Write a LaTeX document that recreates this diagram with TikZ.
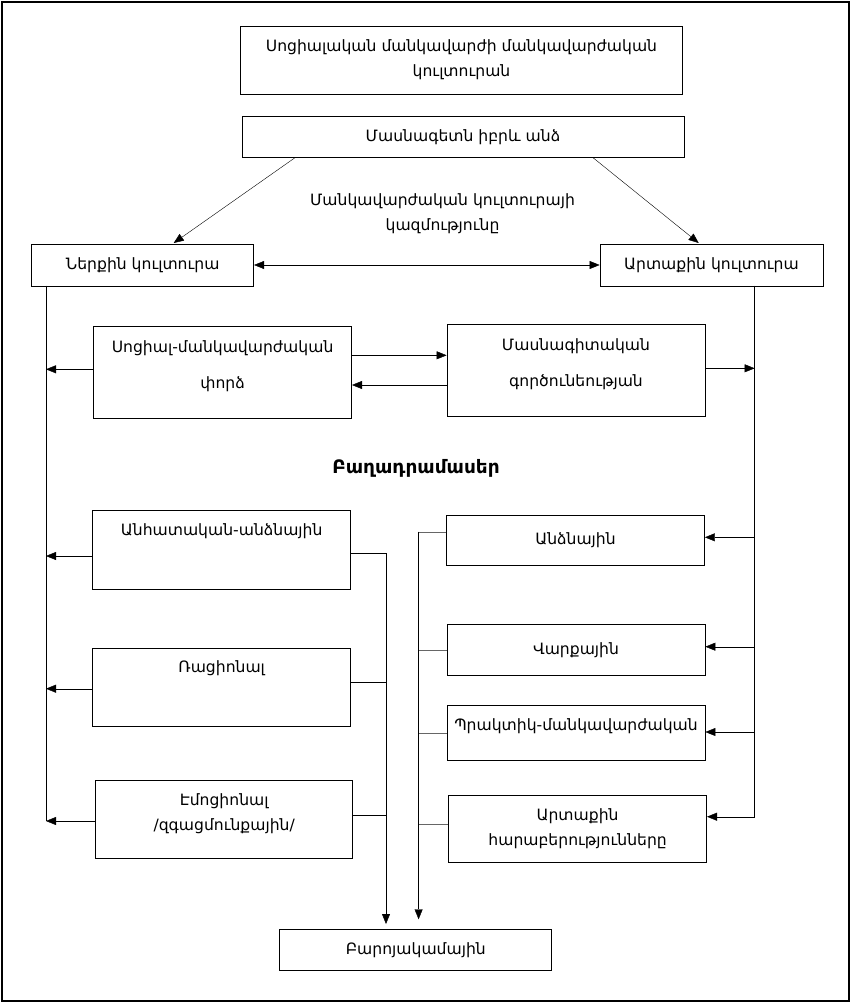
\documentclass[tikz,border=0pt]{standalone}
\usepackage{fontspec}
\setmainfont{DejaVu Sans}
\usetikzlibrary{arrows.meta,positioning}

\tikzset{
  box/.style={draw, thick, rectangle, align=center, inner sep=0pt},
  conn/.style={thin},
  arr/.style={thin, -{Triangle[length=10pt,width=8pt]}},
  darr/.style={thin, {Triangle[length=10pt,width=8pt]}-{Triangle[length=10pt,width=8pt]}},
  stub/.style={thin, black!60},
  toptext/.style={label={[anchor=north, yshift=-10pt]north:#1}},
  midtext/.style={label={[align=center, font=\fontsize{15.6}{36}\selectfont, yshift=6pt]center:#1}}
}

\begin{document}
\begin{tikzpicture}[x=1pt, y=-1pt, font=\fontsize{15.6}{25}\selectfont]
    \useasboundingbox (0,0) rectangle (851,1003);
    % Outer frame
    \draw[line width=1.5pt] (2,2) rectangle (849,1001);

    % Top boxes
    \node[box, minimum width=442, minimum height=68] (culture) at (461.5,60)
        {Սոցիալական մանկավարժի մանկավարժական\\կուլտուրան};
    \node[box, minimum width=442, minimum height=41] (person) at (463,137)
        {Մասնագետն իբրև անձ};
    \node[align=center] (struct) at (442.5,214)
        {Մանկավարժական կուլտուրայի\\կազմությունը};

    % Inner and outer culture
    \node[box, minimum width=222, minimum height=42] (inner) at (142.7,265) {Ներքին կուլտուրա};
    \node[box, minimum width=223, minimum height=42] (outer) at (711.5,265) {Արտաքին կուլտուրա};

    % Middle boxes
    \node[box, minimum width=258, minimum height=92,
          midtext={Սոցիալ-մանկավարժական\\փորձ}] (exper) at (222.6,372) {};
    \node[box, minimum width=258, minimum height=92,
          midtext={Մասնագիտական\\գործունեության}] (prof) at (576,370.5) {};

    \node[font=\fontsize{18.5}{25}\bfseries] (parts) at (416,468) {Բաղադրամասեր};

    % Left column
    \node[box, minimum width=258, minimum height=79, toptext=Անհատական-անձնային] (indiv) at (221.7,550.3) {};
    \node[box, minimum width=258, minimum height=78, toptext=Ռացիոնալ] (ratio) at (221.7,687) {};
    \node[box, minimum width=257, minimum height=78,
          label={[align=center, yshift=6pt]center:Էմոցիոնալ\\/զգացմունքային/}] (emot) at (224.2,819.5) {};

    % Right column
    \node[box, minimum width=258, minimum height=50] (pers) at (575.5,540.5) {Անձնային};
    \node[box, minimum width=258, minimum height=51] (behav) at (576,650) {Վարքային};
    \node[box, minimum width=258, minimum height=55, toptext=Պրակտիկ-մանկավարժական] (pract) at (576,732.7) {};
    \node[box, minimum width=258, minimum height=67] (relat) at (577.6,828.8)
        {Արտաքին\\հարաբերությունները};

    % Bottom box
    \node[box, minimum width=272, minimum height=41] (moral) at (415.8,950.3) {Բարոյակամային};

    % Bus coordinates
    \coordinate (lbtop) at (46,285.7);
    \coordinate (lbend) at (46,821);
    \coordinate (rbtop) at (754.6,285.7);
    \coordinate (rbend) at (754.6,816.7);
    \coordinate (lgtop) at (386,553.3);
    \coordinate (lgend) at (386,924);
    \coordinate (rgtop) at (418.6,531.7);
    \coordinate (rgend) at (418.6,919.3);

    % Arrows from the person box
    \draw[arr] (295,157.7) -- (173.7,243);
    \draw[arr] (593,157.7) -- (698.7,243);
    \draw[darr] (inner) -- (outer);

    % Vertical buses
    \draw[conn] (lbtop) -- (lbend);
    \draw[conn] (rbtop) -- (rbend);

    % Experience and professional activity
    \draw[arr] ([yshift=2.7pt]exper.west) -- ([yshift=2.7pt]exper.west -| lbtop);
    \draw[arr] ([yshift=16.7pt]exper.east) -- ([yshift=15.2pt]prof.west);
    \draw[arr] ([yshift=-14.5pt]prof.west) -- ([yshift=-13pt]exper.east);
    \draw[arr] ([yshift=2.2pt]prof.east) -- ([yshift=2.2pt]prof.east -| rbtop);

    % Left column to left bus
    \draw[arr] ([yshift=-5.7pt]indiv.west) -- ([yshift=-5.7pt]indiv.west -| lbtop);
    \draw[arr] ([yshift=-1.7pt]ratio.west) -- ([yshift=-1.7pt]ratio.west -| lbtop);
    \draw[arr] ([yshift=-1.5pt]emot.west) -- (lbend);

    % Right bus to right column
    \draw[arr] ([yshift=3.2pt]pers.east -| rbtop) -- ([yshift=3.2pt]pers.east);
    \draw[arr] ([yshift=3.3pt]behav.east -| rbtop) -- ([yshift=3.3pt]behav.east);
    \draw[arr] ([yshift=0.7pt]pract.east -| rbtop) -- ([yshift=0.7pt]pract.east);
    \draw[arr] (rbend) -- (rbend -| relat.east);

    % Left column gathered into the moral box
    \draw[conn] ([yshift=-3pt]indiv.east) -- (lgtop);
    \draw[conn] ([yshift=5.3pt]ratio.east) -- ([yshift=5.3pt]ratio.east -| lgtop);
    \draw[conn] ([yshift=4.2pt]emot.east) -- ([yshift=4.2pt]emot.east -| lgtop);
    \draw[arr] (lgtop) -- (lgend);

    % Right column gathered into the moral box
    \draw[stub] ([yshift=8.8pt]pers.west) -- (rgtop);
    \draw[stub] (behav.west) -- (behav.west -| rgtop);
    \draw[stub] (pract.west) -- (pract.west -| rgtop);
    \draw[stub] ([yshift=5.1pt]relat.west) -- ([yshift=5.1pt]relat.west -| rgtop);
    \draw[arr] (rgtop) -- (rgend);
\end{tikzpicture}
\end{document}
